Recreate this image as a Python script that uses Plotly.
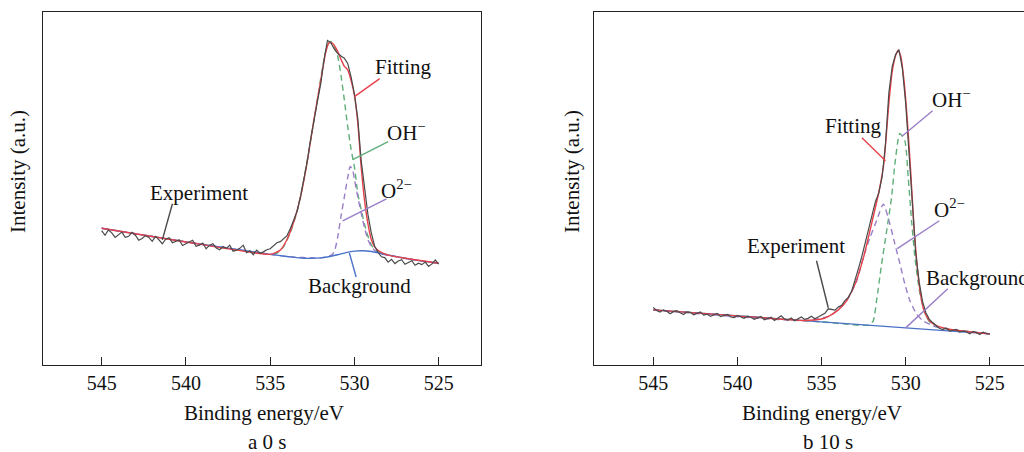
import plotly.graph_objects as go

# ---------------- data ----------------
# energy grid for experiment (eV), 545 -> 525 by 0.2
energy_exp = [round(545.0 - 0.2 * i, 1) for i in range(101)]

# panel a (0 s)
exp_a = [38.0, 36.7, 38.2, 37.4, 36.1, 36.9, 37.6, 36.1, 36.4, 37.5,
         36.7, 35.3, 35.8, 36.6, 36.1, 35.0, 36.4, 35.4, 34.3, 35.6,
         36.0, 34.6, 34.9, 35.4, 33.8, 34.3, 34.9, 35.3, 33.6, 33.9,
         34.5, 32.9, 33.9, 34.3, 33.1, 32.6, 33.5, 33.0, 33.9, 32.2,
         32.5, 33.0, 33.9, 31.8, 32.3, 31.2, 32.5, 31.6, 32.0, 32.6,
         32.9, 33.9, 34.6, 34.9, 35.8, 36.6, 38.6, 40.8, 43.5, 47.6,
         52.5, 57.6, 63.8, 69.8, 74.5, 79.5, 86.5, 91.8, 91.2, 89.4,
         88.2, 87.4, 86.8, 85.3, 81.5, 76.6, 69.6, 57.8, 49.8, 42.6,
         37.4, 33.6, 31.9, 30.6, 30.4, 29.1, 29.9, 28.7, 29.4, 29.8,
         28.5, 28.9, 29.5, 28.2, 28.8, 28.4, 29.1, 27.9, 28.6, 29.7,
         28.5]

bg_a_e = [545, 543, 541, 539, 537, 535, 534, 533, 532, 531, 530.5, 530, 529.5, 529, 528, 527, 526, 525]
bg_a_i = [38.7, 37.1, 35.6, 34.1, 32.7, 31.3, 30.7, 30.2, 30.3, 31.2, 31.8, 32.2, 32.3, 32.1, 31.1, 30.2, 29.4, 28.8]

oh_a_e = [534.8, 534.6, 534.2, 533.8, 533.4, 533.0, 532.6, 532.2, 531.9, 531.6, 531.4, 531.2, 531.0,
          530.8, 530.6, 530.4, 530.2, 530.0, 529.8, 529.6, 529.4, 529.2, 529.0, 528.8, 528.5, 528.0]
oh_a_i = [31.4, 31.6, 33.5, 37.5, 43.5, 52.5, 63.5, 75.0, 84.0, 90.5, 91.5, 90.0, 87.5,
          82.0, 75.0, 67.5, 61.0, 56.0, 48.5, 44.0, 39.8, 36.5, 34.0, 32.8, 32.0, 31.1]

o2_a_e = [545, 541, 537, 534, 532, 531.4, 531.2, 531.0, 530.8, 530.6, 530.4, 530.25, 530.1, 530.0,
          529.8, 529.6, 529.4, 529.2, 529.0, 528.8, 528.5, 528.0, 527, 526, 525]
o2_a_i = [38.7, 35.6, 32.7, 30.7, 30.3, 31.0, 32.0, 36.0, 42.0, 47.5, 53.0, 56.2, 55.0, 52.5,
          47.5, 43.0, 38.8, 35.5, 33.5, 32.4, 31.6, 31.1, 30.2, 29.4, 28.8]

fit_a_e = [545, 540, 535, 534.4, 534.0, 533.6, 533.2, 532.8, 532.4, 532.0, 531.7, 531.5, 531.3, 531.0,
           530.8, 530.6, 530.4, 530.2, 530.0, 529.8, 529.6, 529.4, 529.2, 529.0, 528.8, 528.5, 528.0, 527, 525]
fit_a_i = [38.7, 34.8, 31.3, 32.5, 35.5, 40.5, 47.5, 57.5, 69.5, 80.5, 88.5, 91.2, 91.0, 88.8,
           86.5, 84.5, 83.5, 80.5, 76.3, 68.5, 56.0, 46.5, 40.0, 35.5, 33.4, 32.1, 31.1, 30.2, 28.8]

# panel b (10 s)
exp_b = [16.3, 15.4, 15.0, 15.6, 15.2, 14.5, 15.1, 15.4, 14.8, 14.3,
         15.0, 14.9, 14.2, 14.6, 15.0, 14.1, 14.4, 13.8, 14.3, 14.6,
         13.7, 13.9, 14.3, 13.6, 13.4, 14.0, 13.7, 13.2, 13.8, 13.5,
         12.9, 13.4, 13.7, 12.8, 13.1, 13.5, 12.6, 13.2, 13.9, 13.0,
         12.7, 13.3, 12.5, 13.1, 13.6, 12.9, 13.2, 13.8, 13.1, 13.6,
         14.1, 14.6, 15.9, 15.7, 15.5, 16.4, 16.9, 18.3, 19.2, 21.0,
         24.0, 27.4, 30.8, 34.8, 38.4, 42.0, 46.2, 48.6, 53.2, 62.5,
         77.0, 84.5, 87.8, 89.2, 84.0, 74.0, 60.5, 45.5, 31.5, 23.5,
         18.0, 14.8, 13.0, 12.0, 11.2, 10.4, 10.0, 10.5, 9.6, 9.9,
         10.1, 9.3, 9.6, 9.4, 8.8, 9.5, 9.2, 8.6, 9.3, 8.9,
         8.7]

bg_b_e = [545, 535, 530, 525]
bg_b_i = [15.6, 12.2, 10.5, 8.8]

oh_b_e = [545, 535, 532.2, 531.93, 531.73, 531.43, 531.13, 530.84, 530.64, 530.35, 530.05, 529.85,
          529.65, 529.45, 529.15, 528.76, 528.36, 527.5, 525]
oh_b_i = [15.6, 12.2, 11.3, 12.5, 18.2, 28.6, 38.0, 47.4, 56.9, 65.5, 63.4, 53.0,
          40.8, 30.4, 20.1, 13.5, 11.1, 10.2, 8.8]

o2_b_e = [545, 536, 534.5, 534.1, 533.51, 532.91, 532.52, 532.12, 531.73, 531.33, 530.94, 530.64,
          530.34, 530.05, 529.75, 529.35, 528.96, 528.36, 527.5, 525]
o2_b_i = [15.6, 12.6, 13.9, 15.4, 18.2, 23.8, 30.4, 36.1, 40.8, 45.5, 39.9, 34.2,
          28.6, 22.9, 18.2, 14.4, 12.5, 11.1, 10.2, 8.8]

fit_b_e = [545, 540, 536, 535, 534.5, 534, 533.5, 533, 532.5, 532, 531.6, 531.3, 531.0, 530.8, 530.6,
           530.45, 530.3, 530.1, 529.9, 529.7, 529.5, 529.3, 529.1, 528.9, 528.6, 528.2, 527.5, 525]
fit_b_i = [15.6, 13.9, 12.6, 13.0, 14.0, 15.6, 18.2, 23.0, 30.5, 40.5, 48.8, 57.0, 74.0, 83.0, 87.5,
           89.0, 87.5, 80.5, 69.0, 54.5, 38.5, 27.0, 19.5, 15.2, 12.6, 11.2, 10.2, 8.8]

tick_vals = [545, 540, 535, 530, 525]

# ---------------- styling ----------------
FONT = "Liberation Serif"
C_EXP = "#4a4a4a"
C_FIT = "#e8414a"
C_OH = "#5fae7a"
C_O2 = "#9a7ec8"
C_BG = "#4a72c8"
DASH = "6px,4px"

fig = go.Figure()


def add_panel(xa, ya, exp, bg_e, bg_i, oh_e, oh_i, o2_e, o2_i, fit_e, fit_i):
    fig.add_trace(go.Scatter(x=oh_e, y=oh_i, mode="lines", xaxis=xa, yaxis=ya,
                             line=dict(color=C_OH, width=1.4, dash=DASH, shape="spline", smoothing=0.6)))
    fig.add_trace(go.Scatter(x=o2_e, y=o2_i, mode="lines", xaxis=xa, yaxis=ya,
                             line=dict(color=C_O2, width=1.4, dash=DASH, shape="spline", smoothing=0.6)))
    fig.add_trace(go.Scatter(x=bg_e, y=bg_i, mode="lines", xaxis=xa, yaxis=ya,
                             line=dict(color=C_BG, width=1.4, shape="spline", smoothing=0.8)))
    fig.add_trace(go.Scatter(x=fit_e, y=fit_i, mode="lines", xaxis=xa, yaxis=ya,
                             line=dict(color=C_FIT, width=1.4, shape="spline", smoothing=0.5)))
    fig.add_trace(go.Scatter(x=energy_exp, y=exp, mode="lines", xaxis=xa, yaxis=ya,
                             line=dict(color=C_EXP, width=1.2)))


add_panel("x", "y", exp_a, bg_a_e, bg_a_i, oh_a_e, oh_a_i, o2_a_e, o2_a_i, fit_a_e, fit_a_i)
add_panel("x2", "y2", exp_b, bg_b_e, bg_b_i, oh_b_e, oh_b_i, o2_b_e, o2_b_i, fit_b_e, fit_b_i)

W, H = 1024, 452
ydom = [1 - 365 / H, 1 - 11.5 / H]
axis_common = dict(showgrid=False, zeroline=False, showline=True, linecolor="#222222", linewidth=1.3)

fig.update_layout(
    width=W, height=H, showlegend=False,
    margin=dict(l=0, r=0, t=0, b=0),
    paper_bgcolor="white", plot_bgcolor="white",
    font=dict(family=FONT, size=20, color="#111111"),
    xaxis=dict(domain=[43 / W, 481 / W], range=[548.48, 522.49], tickvals=tick_vals,
               ticks="inside", ticklen=8, tickwidth=1.2, tickcolor="#222222", mirror=True,
               tickfont=dict(family=FONT, size=20), anchor="y", **axis_common),
    yaxis=dict(domain=ydom, range=[0, 100], showticklabels=False, ticks="", mirror=True,
               anchor="x", **axis_common),
    xaxis2=dict(domain=[594 / W, 1.0], range=[548.52, 522.97], tickvals=tick_vals,
                ticks="inside", ticklen=8, tickwidth=1.2, tickcolor="#222222", mirror=True,
                tickfont=dict(family=FONT, size=20), anchor="y2", **axis_common),
    yaxis2=dict(domain=ydom, range=[0, 100], showticklabels=False, ticks="", mirror=False,
                anchor="x2", **axis_common),
)

# ---------------- annotations ----------------
ann = []
shapes = []


def label(xr, yr, x, y, text, xanchor="center"):
    ann.append(dict(xref=xr, yref=yr, x=x, y=y, text=text, showarrow=False,
                    xanchor=xanchor, yanchor="middle", font=dict(family=FONT, size=21, color="#111111")))


def leader(xr, yr, x0, y0, x1, y1, color):
    shapes.append(dict(type="line", xref=xr, yref=yr, x0=x0, y0=y0, x1=x1, y1=y1,
                       line=dict(color=color, width=1.4)))


# panel a
label("x", "y", 527.1, 84.4, "Fitting")
leader("x", "y", 528.5, 81.0, 530.0, 75.9, C_FIT)
label("x", "y", 526.9, 66.0, "OH<sup>−</sup>")
leader("x", "y", 528.0, 63.2, 530.1, 58.1, C_OH)
label("x", "y", 527.5, 49.6, "O<sup>2−</sup>")
leader("x", "y", 528.1, 47.0, 530.7, 40.8, C_O2)
label("x", "y", 539.2, 48.7, "Experiment")
leader("x", "y", 540.8, 45.6, 541.4, 35.4, C_EXP)
label("x", "y", 529.7, 22.4, "Background")
leader("x", "y", 529.9, 24.9, 530.3, 31.7, C_BG)

# panel b
label("x2", "y2", 533.1, 67.7, "Fitting")
leader("x2", "y2", 532.6, 64.3, 531.2, 57.8, C_FIT)
label("x2", "y2", 527.3, 75.3, "OH<sup>−</sup>")
leader("x2", "y2", 528.4, 71.9, 530.2, 64.8, C_O2)
label("x2", "y2", 527.4, 44.2, "O<sup>2−</sup>")
leader("x2", "y2", 528.0, 40.8, 530.5, 32.9, C_O2)
label("x2", "y2", 536.5, 33.7, "Experiment")
leader("x2", "y2", 535.3, 29.5, 534.6, 16.2, C_EXP)
label("x2", "y2", 528.9, 24.7, "Background", xanchor="left")
leader("x2", "y2", 527.5, 21.6, 530.0, 10.5, C_O2)

# axis titles and captions
for xc, txt in [(264 / W, "Binding energy/eV"), (822 / W, "Binding energy/eV")]:
    ann.append(dict(xref="paper", yref="paper", x=xc, y=1 - 413 / H, text=txt, showarrow=False,
                    xanchor="center", yanchor="middle", font=dict(family=FONT, size=21, color="#111111")))
for xc, txt in [(267 / W, "a 0 s"), (828 / W, "b 10 s")]:
    ann.append(dict(xref="paper", yref="paper", x=xc, y=1 - 442 / H, text=txt, showarrow=False,
                    xanchor="center", yanchor="middle", font=dict(family=FONT, size=21, color="#111111")))
for xc in [18 / W, 572 / W]:
    ann.append(dict(xref="paper", yref="paper", x=xc, y=1 - 172 / H, text="Intensity (a.u.)",
                    showarrow=False, textangle=-90, xanchor="center", yanchor="middle",
                    font=dict(family=FONT, size=21, color="#111111")))

fig.update_layout(annotations=ann, shapes=shapes)
fig.write_html(
    "out.html",
    config={"displayModeBar": False},
    post_script="document.body.style.margin='0';document.body.style.overflow='hidden';"
                "document.documentElement.style.overflow='hidden';",
)
